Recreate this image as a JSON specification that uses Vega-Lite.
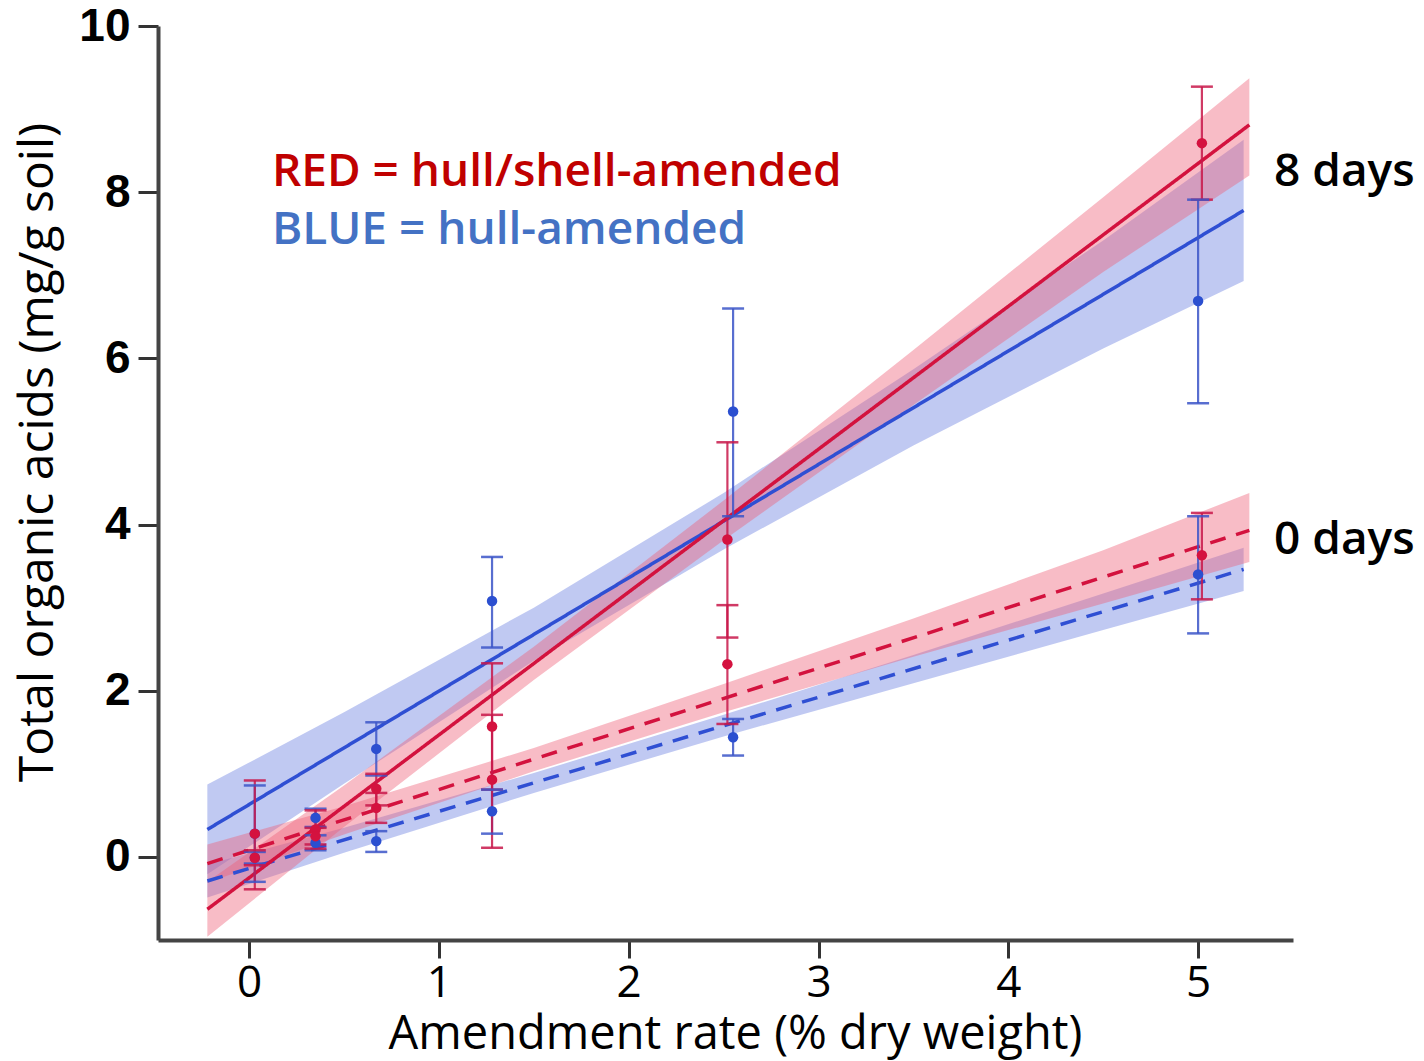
{
  "$schema": "https://vega.github.io/schema/vega-lite/v6.json",
  "width": 1135,
  "height": 914,
  "autosize": {"type": "none"},
  "padding": {"left": 158, "top": 26, "right": 131, "bottom": 121},
  "background": "white",
  "config": {"view": {"stroke": null}},
  "datasets": {
    "bands": [
      {"series": "blue8", "x": -0.22, "lo": -0.21, "hi": 0.87},
      {"series": "blue8", "x": 0.5, "lo": 0.88, "hi": 1.74},
      {"series": "blue8", "x": 1.5, "lo": 2.36, "hi": 3.0},
      {"series": "blue8", "x": 2.5, "lo": 3.7, "hi": 4.38},
      {"series": "blue8", "x": 3.5, "lo": 4.95, "hi": 5.87},
      {"series": "blue8", "x": 4.5, "lo": 6.12, "hi": 7.42},
      {"series": "blue8", "x": 5.24, "lo": 6.93, "hi": 8.63},
      {"series": "blue0", "x": -0.22, "lo": -0.49, "hi": -0.09},
      {"series": "blue0", "x": 0.5, "lo": 0.05, "hi": 0.35},
      {"series": "blue0", "x": 1.5, "lo": 0.77, "hi": 1.01},
      {"series": "blue0", "x": 2.5, "lo": 1.45, "hi": 1.71},
      {"series": "blue0", "x": 3.5, "lo": 2.09, "hi": 2.43},
      {"series": "blue0", "x": 4.5, "lo": 2.73, "hi": 3.17},
      {"series": "blue0", "x": 5.24, "lo": 3.2, "hi": 3.72},
      {"series": "red8", "x": -0.22, "lo": -0.96, "hi": -0.3},
      {"series": "red8", "x": 0.5, "lo": 0.36, "hi": 0.86},
      {"series": "red8", "x": 1.5, "lo": 2.13, "hi": 2.53},
      {"series": "red8", "x": 2.5, "lo": 3.81, "hi": 4.29},
      {"series": "red8", "x": 3.5, "lo": 5.44, "hi": 6.1},
      {"series": "red8", "x": 4.5, "lo": 7.04, "hi": 7.94},
      {"series": "red8", "x": 5.27, "lo": 8.2, "hi": 9.37},
      {"series": "red0", "x": -0.22, "lo": -0.31, "hi": 0.15},
      {"series": "red0", "x": 0.5, "lo": 0.27, "hi": 0.61},
      {"series": "red0", "x": 1.5, "lo": 1.03, "hi": 1.31},
      {"series": "red0", "x": 2.5, "lo": 1.74, "hi": 2.08},
      {"series": "red0", "x": 3.5, "lo": 2.41, "hi": 2.87},
      {"series": "red0", "x": 4.5, "lo": 3.05, "hi": 3.69},
      {"series": "red0", "x": 5.27, "lo": 3.55, "hi": 4.38}
    ],
    "lines": [
      {"series": "blue8", "x": -0.22, "y": 0.33},
      {"series": "blue8", "x": 5.24, "y": 7.78},
      {"series": "blue0", "x": -0.22, "y": -0.29},
      {"series": "blue0", "x": 5.24, "y": 3.46},
      {"series": "red8", "x": -0.22, "y": -0.63},
      {"series": "red8", "x": 5.27, "y": 8.81},
      {"series": "red0", "x": -0.22, "y": -0.08},
      {"series": "red0", "x": 5.27, "y": 3.93}
    ],
    "points": [
      {"series": "blue8", "x": 0.03, "y": 0.28, "lo": -0.3, "hi": 0.86},
      {"series": "blue8", "x": 0.35, "y": 0.47, "lo": 0.36, "hi": 0.58},
      {"series": "blue8", "x": 0.67, "y": 1.3, "lo": 0.98, "hi": 1.62},
      {"series": "blue8", "x": 1.28, "y": 3.08, "lo": 2.52, "hi": 3.61},
      {"series": "blue8", "x": 2.55, "y": 5.36, "lo": 4.1, "hi": 6.6},
      {"series": "blue8", "x": 5.0, "y": 6.69, "lo": 5.46, "hi": 7.91},
      {"series": "blue0", "x": 0.03, "y": -0.01, "lo": -0.08, "hi": 0.06},
      {"series": "blue0", "x": 0.35, "y": 0.17, "lo": 0.08, "hi": 0.26},
      {"series": "blue0", "x": 0.67, "y": 0.19, "lo": 0.06, "hi": 0.31},
      {"series": "blue0", "x": 1.28, "y": 0.55, "lo": 0.28, "hi": 0.81},
      {"series": "blue0", "x": 2.55, "y": 1.44, "lo": 1.22, "hi": 1.66},
      {"series": "blue0", "x": 5.0, "y": 3.4, "lo": 2.69, "hi": 4.1},
      {"series": "red8", "x": 0.03, "y": 0.28, "lo": -0.39, "hi": 0.92},
      {"series": "red8", "x": 0.35, "y": 0.33, "lo": 0.1, "hi": 0.56},
      {"series": "red8", "x": 0.67, "y": 0.82, "lo": 0.62, "hi": 1.0},
      {"series": "red8", "x": 1.28, "y": 1.57, "lo": 0.81, "hi": 2.33},
      {"series": "red8", "x": 2.52, "y": 3.82, "lo": 2.64, "hi": 4.99},
      {"series": "red8", "x": 5.02, "y": 8.59, "lo": 7.91, "hi": 9.27},
      {"series": "red0", "x": 0.03, "y": -0.01, "lo": -0.1, "hi": 0.08},
      {"series": "red0", "x": 0.35, "y": 0.25, "lo": 0.15, "hi": 0.35},
      {"series": "red0", "x": 0.67, "y": 0.59, "lo": 0.41, "hi": 0.77},
      {"series": "red0", "x": 1.28, "y": 0.93, "lo": 0.11, "hi": 1.71},
      {"series": "red0", "x": 2.52, "y": 2.32, "lo": 1.6, "hi": 3.03},
      {"series": "red0", "x": 5.02, "y": 3.63, "lo": 3.1, "hi": 4.14}
    ],
    "labels": [
      {"x": 0.12, "y": 8.08, "text": "RED = hull/shell-amended", "kind": "red"},
      {"x": 0.12, "y": 7.38, "text": "BLUE = hull-amended", "kind": "blue"},
      {"x": 5.4, "y": 8.08, "text": "8 days", "kind": "black"},
      {"x": 5.4, "y": 3.64, "text": "0 days", "kind": "black"}
    ]
  },
  "layer": [
    {
      "data": {"name": "bands"},
      "mark": {"type": "area", "fillOpacity": 0.42, "strokeWidth": 0},
      "encoding": {
        "x": {"field": "x", "type": "quantitative", "scale": {"domain": [-0.48, 5.5], "nice": false, "zero": false},
          "axis": {"title": "Amendment rate (% dry weight)", "values": [0, 1, 2, 3, 4, 5], "format": "d", "grid": false,
            "domainColor": "#444444", "domainWidth": 4, "tickColor": "#333333", "tickWidth": 3, "tickSize": 18,
            "labelFont": "Open Sans", "labelFontSize": 44, "labelColor": "#000000", "labelPadding": 3,
            "titleFont": "Open Sans", "titleFontSize": 47, "titleFontWeight": "normal", "titleColor": "#000000", "titlePadding": 6,
            "titleX": 577, "titleAlign": "center"}},
        "y": {"field": "lo", "type": "quantitative", "stack": null, "scale": {"domain": [-1, 10], "nice": false, "zero": false},
          "axis": {"title": "Total organic acids (mg/g soil)", "values": [0, 2, 4, 6, 8, 10], "format": "d", "grid": false,
            "domainColor": "#444444", "domainWidth": 4, "tickColor": "#333333", "tickWidth": 3, "tickSize": 20,
            "labelFont": "Liberation Sans", "labelFontWeight": "bold", "labelFontSize": 46, "labelColor": "#000000", "labelPadding": 8,
            "titleFont": "Open Sans", "titleFontSize": 48, "titleFontWeight": "normal", "titleColor": "#000000", "titlePadding": 16,
            "titleY": 426, "titleAlign": "center"}},
        "y2": {"field": "hi"},
        "fill": {"field": "series", "type": "nominal", "legend": null,
          "scale": {"domain": ["red8", "red0", "blue8", "blue0"], "range": ["#ee5f78", "#ee5f78", "#6a7fe0", "#6a7fe0"]}}
      }
    },
    {
      "data": {"name": "lines"},
      "mark": {"type": "line", "strokeWidth": 3.5},
      "encoding": {
        "x": {"field": "x", "type": "quantitative"},
        "y": {"field": "y", "type": "quantitative"},
        "color": {"field": "series", "type": "nominal", "legend": null,
          "scale": {"domain": ["red8", "red0", "blue8", "blue0"], "range": ["#d3123e", "#d3123e", "#2f4fd3", "#2f4fd3"]}},
        "strokeDash": {"field": "series", "type": "nominal", "legend": null,
          "scale": {"domain": ["red8", "red0", "blue8", "blue0"], "range": [[1, 0], [16, 11], [1, 0], [16, 11]]}}
      }
    },
    {
      "data": {"name": "points"},
      "mark": {"type": "rule", "strokeWidth": 2.2, "opacity": 0.85},
      "encoding": {
        "x": {"field": "x", "type": "quantitative"},
        "y": {"field": "lo", "type": "quantitative"},
        "y2": {"field": "hi"},
        "color": {"field": "series", "type": "nominal", "legend": null,
          "scale": {"domain": ["red8", "red0", "blue8", "blue0"], "range": ["#c8174a", "#c8174a", "#3b55c8", "#3b55c8"]}}
      }
    },
    {
      "data": {"name": "points"},
      "mark": {"type": "tick", "orient": "horizontal", "size": 22, "thickness": 2.5, "opacity": 0.85},
      "encoding": {
        "x": {"field": "x", "type": "quantitative"},
        "y": {"field": "lo", "type": "quantitative"},
        "color": {"field": "series", "type": "nominal", "legend": null,
          "scale": {"domain": ["red8", "red0", "blue8", "blue0"], "range": ["#c8174a", "#c8174a", "#3b55c8", "#3b55c8"]}}
      }
    },
    {
      "data": {"name": "points"},
      "mark": {"type": "tick", "orient": "horizontal", "size": 22, "thickness": 2.5, "opacity": 0.85},
      "encoding": {
        "x": {"field": "x", "type": "quantitative"},
        "y": {"field": "hi", "type": "quantitative"},
        "color": {"field": "series", "type": "nominal", "legend": null,
          "scale": {"domain": ["red8", "red0", "blue8", "blue0"], "range": ["#c8174a", "#c8174a", "#3b55c8", "#3b55c8"]}}
      }
    },
    {
      "data": {"name": "points"},
      "mark": {"type": "circle", "size": 110, "opacity": 1},
      "encoding": {
        "x": {"field": "x", "type": "quantitative"},
        "y": {"field": "y", "type": "quantitative"},
        "color": {"field": "series", "type": "nominal", "legend": null,
          "scale": {"domain": ["red8", "red0", "blue8", "blue0"], "range": ["#d4123f", "#d4123f", "#2b4fd0", "#2b4fd0"]}}
      }
    },
    {
      "data": {"name": "labels"},
      "mark": {"type": "text", "align": "left", "baseline": "alphabetic", "font": "Open Sans", "fontSize": 46, "fontWeight": 600},
      "encoding": {
        "x": {"field": "x", "type": "quantitative"},
        "y": {"field": "y", "type": "quantitative"},
        "text": {"field": "text"},
        "color": {"field": "kind", "type": "nominal", "legend": null,
          "scale": {"domain": ["red", "blue", "black"], "range": ["#c00000", "#4472c4", "#000000"]}}
      }
    }
  ],
  "resolve": {"scale": {"color": "independent", "strokeDash": "independent", "fill": "independent"}}
}
